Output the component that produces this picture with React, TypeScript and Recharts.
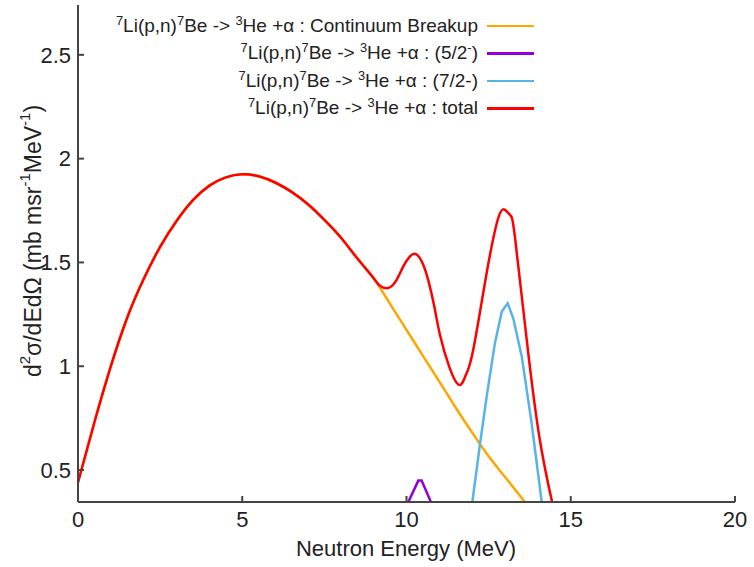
import React from "react";
import { LineChart, Line, XAxis, YAxis, Label } from "recharts";

// total cross section (red)
const totalE = [0, 0.5, 1, 1.5, 2, 2.5, 3, 3.5, 4, 4.5, 5, 5.5, 6, 6.5, 7, 7.5, 8, 8.5, 9.0, 9.19, 9.4, 9.55, 9.7, 9.9, 10.1, 10.29, 10.48, 10.66, 10.85, 11.02, 11.3, 11.6, 11.8, 12.03, 12.44, 12.75, 12.95, 13.15, 13.3, 13.66, 14.06, 14.44, 14.5];
const totalV = [0.44, 0.73, 1.0, 1.235, 1.42, 1.575, 1.7, 1.8, 1.87, 1.91, 1.925, 1.915, 1.885, 1.84, 1.78, 1.705, 1.62, 1.52, 1.424, 1.388, 1.376, 1.386, 1.416, 1.48, 1.528, 1.54, 1.5, 1.416, 1.285, 1.15, 0.998, 0.91, 0.955, 1.078, 1.449, 1.69, 1.756, 1.729, 1.624, 1.127, 0.645, 0.341, 0.3];

// continuum breakup (orange)
const contE = [0, 0.5, 1, 1.5, 2, 2.5, 3, 3.5, 4, 4.5, 5, 5.5, 6, 6.5, 7, 7.5, 8, 8.5, 9.0, 9.5, 10.0, 10.5, 11.0, 11.5, 12.0, 12.5, 13.0, 13.5, 13.75];
const contV = [0.44, 0.73, 1.0, 1.235, 1.42, 1.575, 1.7, 1.8, 1.87, 1.91, 1.925, 1.915, 1.885, 1.84, 1.78, 1.705, 1.62, 1.52, 1.424, 1.3, 1.175, 1.05, 0.926, 0.8, 0.68, 0.566, 0.466, 0.366, 0.318];

// 5/2- resonance (purple)
const res52E = [9.92, 10.36, 10.46, 10.87];
const res52V = [0.3, 0.449, 0.449, 0.3];

// 7/2- resonance (blue)
const res72E = [11.97, 12.0, 12.24, 12.44, 12.69, 12.9, 13.08, 13.25, 13.51, 13.81, 14.12, 14.15];
const res72V = [0.3, 0.34, 0.629, 0.853, 1.11, 1.263, 1.303, 1.231, 1.046, 0.725, 0.34, 0.3];

const xTicks = [0, 5, 10, 15, 20];
const yTicks = [0.5, 1, 1.5, 2, 2.5];

const toPoints = (xs: number[], ys: number[]) => xs.map((x, i) => ({ x, y: ys[i] }));

const FONT = "'Liberation Sans', Arial, sans-serif";
const AXIS = "#444";

const Sup = ({ children }: { children: React.ReactNode }) => (
  <span style={{ fontSize: "0.68em", verticalAlign: "0.55em", lineHeight: 0 }}>{children}</span>
);

const legendRows = [
  { color: "#FFA500", tail: <>: Continuum Breakup</> },
  { color: "#9400D3", tail: <>: (5/2<Sup>-</Sup>)</> },
  { color: "#56B4E9", tail: <>: (7/2-)</> },
  { color: "#FF0000", tail: <>: total</> },
];

const ChartLegend = () => (
  <div style={{ position: "absolute", left: 0, top: 12, width: 534, fontFamily: FONT, fontSize: 19, color: "#222" }}>
    {legendRows.map((r, i) => (
      <div key={i} style={{ display: "flex", justifyContent: "flex-end", alignItems: "center", height: 27.5 }}>
        <span style={{ whiteSpace: "nowrap" }}>
          <Sup>7</Sup>Li(p,n)<Sup>7</Sup>Be -&gt; <Sup>3</Sup>He +α {r.tail}
        </span>
        <span style={{ display: "inline-block", width: 47, height: 2.5, background: r.color, marginLeft: 9 }} />
      </div>
    ))}
  </div>
);

const YTitle = () => (
  <text
    x={33}
    y={241}
    transform="rotate(-90, 33, 241)"
    textAnchor="middle"
    dominantBaseline="central"
    fontFamily={FONT}
    fontSize={23}
    fill="#222"
  >
    d<tspan baselineShift="super" fontSize={15}>2</tspan>σ/dEdΩ (mb msr
    <tspan baselineShift="super" fontSize={15}>-1</tspan>MeV
    <tspan baselineShift="super" fontSize={15}>-1</tspan>)
  </text>
);

const XTitle = () => (
  <text x={406} y={556} textAnchor="middle" fontFamily={FONT} fontSize={22} fill="#222">
    Neutron Energy (MeV)
  </text>
);

const App = () => {
  const tickStyle = { fontSize: 22, fontFamily: FONT, fill: "#222" };
  return (
    <div style={{ position: "absolute", left: 0, top: 0, width: 754, height: 567, background: "#fff" }}>
      <LineChart width={754} height={567} margin={{ top: 5, right: 19, bottom: 0, left: 0 }}>
        <XAxis
          xAxisId="bottom"
          dataKey="x"
          type="number"
          domain={[0, 20]}
          ticks={xTicks}
          allowDataOverflow
          height={65}
          tickSize={-6}
          tickMargin={15}
          tick={tickStyle}
          stroke={AXIS}
          strokeWidth={2}
        >
          <Label content={<XTitle />} />
        </XAxis>
        <XAxis
          xAxisId="top"
          orientation="top"
          dataKey="x"
          type="number"
          domain={[0, 20]}
          ticks={xTicks}
          allowDataOverflow
          height={0}
          tickSize={-6}
          tick={false}
          stroke={AXIS}
          strokeWidth={2}
        />
        <YAxis
          yAxisId="left"
          type="number"
          domain={[0.346, 2.74]}
          ticks={yTicks}
          allowDataOverflow
          width={78}
          tickSize={-6}
          tickMargin={13}
          tick={tickStyle}
          stroke={AXIS}
          strokeWidth={2}
        >
          <Label content={<YTitle />} />
        </YAxis>
        <YAxis
          yAxisId="right"
          orientation="right"
          type="number"
          domain={[0.346, 2.74]}
          ticks={yTicks}
          allowDataOverflow
          width={0}
          tickSize={-6}
          tick={false}
          stroke={AXIS}
          strokeWidth={2}
        />
        <Line xAxisId="bottom" yAxisId="left" data={toPoints(contE, contV)} dataKey="y" type="natural" stroke="#FFA500" strokeWidth={2.5} dot={false} isAnimationActive={false} />
        <Line xAxisId="bottom" yAxisId="left" data={toPoints(res52E, res52V)} dataKey="y" type="linear" stroke="#9400D3" strokeWidth={2.5} dot={false} isAnimationActive={false} />
        <Line xAxisId="bottom" yAxisId="left" data={toPoints(res72E, res72V)} dataKey="y" type="linear" stroke="#56B4E9" strokeWidth={2.5} dot={false} isAnimationActive={false} />
        <Line xAxisId="bottom" yAxisId="left" data={toPoints(totalE, totalV)} dataKey="y" type="natural" stroke="#FF0000" strokeWidth={2.5} dot={false} isAnimationActive={false} />
      </LineChart>
      <ChartLegend />
    </div>
  );
};

export default App;
